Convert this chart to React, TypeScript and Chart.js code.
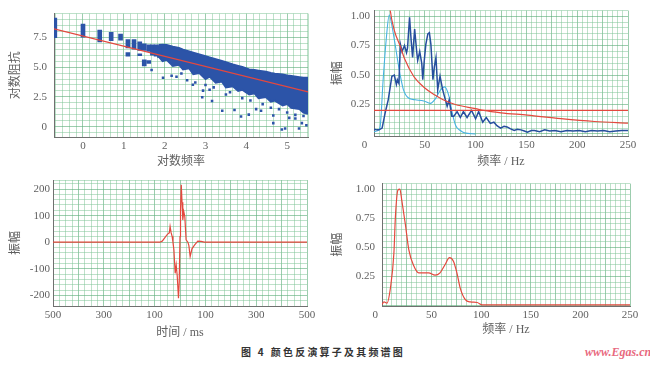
import React, { useEffect, useRef } from "react";
import { Chart, registerables } from "chart.js";
Chart.register(...registerables);

// ---------- Top-left: log impedance vs log frequency ----------
const fitLineX = [-0.71, 5.51];
const fitLineY = [8.2, 2.93];
const colX = [-0.69, 0, 0.41, 0.69, 0.92, 1.1, 1.1, 1.25, 1.39, 1.39, 1.5, 1.5, 1.61, 1.61, 1.7, 1.79, 1.87];
const colLo = [7.45, 7.5, 7.1, 7.2, 7.25, 6.6, 5.9, 6.5, 6.4, 5.95, 6.4, 5.1, 6.3, 5.3, 6.0, 5.9, 5.8];
const colHi = [9.1, 8.6, 8.1, 7.9, 7.75, 7.3, 6.2, 7.3, 7.1, 6.1, 6.95, 5.6, 6.85, 5.55, 6.85, 6.85, 6.8];
const bandX = [1.85, 1.95, 2.05, 2.2, 2.35, 2.45, 2.6, 2.7, 2.85, 3.0, 3.1, 3.25, 3.4, 3.5, 3.67, 3.8, 3.9, 4.07, 4.2, 4.3, 4.48, 4.6, 4.7, 4.89, 5.0, 5.1, 5.3, 5.4, 5.51];
const bandHi = [6.85, 6.86, 6.85, 6.7, 6.6, 6.45, 6.3, 6.2, 6.05, 5.9, 5.8, 5.65, 5.5, 5.4, 5.22, 5.1, 5.0, 4.8, 4.75, 4.7, 4.6, 4.5, 4.45, 4.38, 4.3, 4.25, 4.15, 4.1, 4.1];
const bandLo = [5.9, 5.5, 5.6, 5.1, 5.2, 4.8, 4.9, 4.4, 4.5, 4.0, 4.2, 3.7, 3.8, 3.3, 3.4, 3.0, 3.1, 2.7, 2.8, 2.4, 2.5, 2.1, 2.2, 1.8, 1.9, 1.6, 1.5, 1.2, 1.1];
const outX = [1.68, 1.96, 2.17, 2.29, 2.41, 2.55, 2.69, 2.75, 2.92, 2.94, 3.0, 3.1, 3.16, 3.2, 3.41, 3.5, 3.6, 3.71, 3.87, 3.9, 4.06, 4.1, 4.24, 4.36, 4.4, 4.6, 4.66, 4.66, 4.8, 4.87, 4.95, 5.0, 5.05, 5.2, 5.2, 5.29, 5.36, 5.4, 5.47];
const outY = [4.75, 4.11, 4.27, 4.19, 4.46, 3.9, 3.52, 3.7, 2.48, 3.03, 3.5, 3.11, 2.16, 3.3, 1.35, 2.7, 2.9, 1.4, 0.86, 2.4, 1.02, 2.2, 1.48, 1.35, 1.9, 1.6, 0.94, 0.31, 1.48, -0.22, -0.14, 1.2, 0.75, 0.7, 1.0, -0.14, 0.31, 0.9, 0.13];

// ---------- Top-right: spectra ----------
const decayF = [14, 16, 20, 26, 30, 39, 50, 60, 68, 80, 100, 108, 125, 151, 184, 217, 250];
const decayV = [1.25, 1.05, 0.88, 0.74, 0.64, 0.49, 0.39, 0.33, 0.29, 0.25, 0.215, 0.2, 0.18, 0.16, 0.13, 0.106, 0.092];
const levelF = [0, 250];
const levelV = [0.2, 0.2];
const seisF = [0, 3, 5, 8, 11, 14, 17.6, 20, 22, 23, 24.5, 26, 27.6, 30, 32, 33, 35, 36.6, 38, 40, 42, 43, 45, 47, 48, 49.5, 51, 53, 54.5, 56, 58, 59.4, 61, 62.7, 65, 67.6, 69, 72, 74, 76.6, 78.5, 81.8, 85, 88, 91.6, 96, 100, 103, 107, 110.5, 114.5, 118, 121, 124.6, 128, 131, 134, 138, 141, 144.6, 148, 151, 155, 158, 163, 168, 173, 178, 184, 190, 196, 202, 208, 214, 220, 226, 232, 238, 244, 250];
const seisV = [0.04, 0.035, 0.035, 0.05, 0.18, 0.29, 0.49, 0.5, 0.42, 0.46, 0.43, 0.76, 0.7, 0.75, 0.69, 0.73, 0.99, 0.79, 0.65, 0.89, 0.7, 0.625, 0.7, 0.6, 0.46, 0.625, 0.76, 0.85, 0.86, 0.76, 0.46, 0.57, 0.65, 0.375, 0.49, 0.375, 0.33, 0.235, 0.29, 0.15, 0.15, 0.19, 0.14, 0.19, 0.14, 0.2, 0.13, 0.19, 0.1, 0.14, 0.09, 0.1, 0.07, 0.05, 0.065, 0.06, 0.045, 0.03, 0.04, 0.035, 0.025, 0.015, 0.03, 0.03, 0.02, 0.035, 0.025, 0.03, 0.02, 0.03, 0.025, 0.03, 0.02, 0.03, 0.025, 0.03, 0.02, 0.025, 0.03, 0.03];
const lightF = [0, 4, 6, 9, 12, 15, 17, 20.8, 23, 26, 29, 34, 40.6, 49, 55.5, 60.5, 65.5, 69.5, 73.8, 77, 80.5, 85, 89, 100];
const lightV = [0.02, 0.03, 0.06, 0.46, 0.8, 1.01, 0.95, 0.76, 0.64, 0.49, 0.375, 0.305, 0.29, 0.28, 0.26, 0.3, 0.375, 0.4, 0.32, 0.18, 0.07, 0.03, 0.01, 0.0];

// ---------- Bottom-left: operator in time ----------
const opT = [-500, -80, -70, -61, -52, -46, -42, -39, -35, -31, -28, -24, -19, -15, -11, -6, -3, 0, 2, 5, 8, 11, 15, 19, 24, 31, 35, 40, 47, 57, 70, 83, 96, 500];
const opA = [0, 0, 4, 15, 27, 33, 35, 59, 36, 22, 2, -29, -117, -86, -125, -211, -150, 21, 120, 216, 150, 84, 115, 96, 9, 0, -13, -54, -25, -11, 4, 3, 0, 0];

// ---------- Bottom-right: operator spectrum ----------
const specF = [0, 2, 5, 8.5, 12, 13.5, 16, 18, 20, 23.5, 27, 32, 37, 43.5, 47, 53.5, 58.5, 63.5, 68, 72, 75.5, 79, 84, 89, 96, 101, 110, 150, 200, 250];
const specV = [0.01, 0.03, 0.02, 0.15, 0.45, 0.76, 0.99, 1.0, 0.9, 0.7, 0.48, 0.34, 0.28, 0.28, 0.28, 0.26, 0.28, 0.35, 0.41, 0.38, 0.28, 0.145, 0.05, 0.03, 0.025, 0.005, 0.005, 0.005, 0.005, 0.005];

// ---------- styling ----------
const SERIF = '"Liberation Serif", "Times New Roman", "Noto Sans CJK SC", serif';
const TXT = "#5f5f5f";
const MINOR = "rgba(125,196,150,0.5)";
const MAJOR = "rgba(95,175,125,0.62)";
const AXIS = "#707070";
const RED = "rgb(228,72,62)";
const DBLUE = "rgb(38,78,158)";
const LBLUE = "rgb(70,178,225)";
const SCAT = "rgb(44,84,168)";

const pts = (xs: number[], ys: number[]) => xs.map((x, i) => ({ x, y: ys[i] }));
const near = (v: number, step: number) => Math.abs(v / step - Math.round(v / step)) < 1e-6;

function axis(opts: any) {
  const { min, max, step, label, major, title, size, pad, titlePad, horizontal } = opts;
  return {
    type: "linear",
    min,
    max,
    offset: false,
    afterBuildTicks: (s: any) => {
      const vals: number[] = [min];
      const k0 = Math.ceil(min / step - 1e-9);
      const k1 = Math.floor(max / step + 1e-9);
      for (let k = k0; k <= k1; k++) {
        const v = k * step;
        if (v - min > 1e-9 && max - v > 1e-9) vals.push(v);
      }
      vals.push(max);
      s.ticks = vals.map((v) => ({ value: v }));
    },
    ticks: {
      autoSkip: false,
      maxRotation: 0,
      minRotation: 0,
      padding: pad,
      color: TXT,
      font: { family: SERIF, size: 11 },
      callback: (v: number) => label(v),
    },
    grid: {
      drawTicks: false,
      offset: false,
      lineWidth: 1,
      color: (ctx: any) => (ctx.tick && near(ctx.tick.value, major) ? MAJOR : MINOR),
    },
    border: { display: true, color: AXIS, width: 1 },
    title: {
      display: true,
      text: title,
      color: TXT,
      font: { family: SERIF, size: 12 },
      padding: { top: titlePad, bottom: titlePad },
    },
    afterFit: (s: any) => {
      if (horizontal) s.height = size;
      else s.width = size;
    },
  };
}

const baseOptions = (padRight: number, xAx: any, yAx: any) => ({
  responsive: false,
  animation: false,
  events: [],
  layout: { padding: { top: 10, right: padRight, bottom: 0, left: 0 } },
  plugins: { legend: { display: false }, tooltip: { enabled: false } },
  scales: { x: xAx, y: yAx },
});

function cfgTopLeft(): any {
  return {
    type: "scatter",
    data: {
      datasets: [
        { type: "line", data: pts(fitLineX, fitLineY), borderColor: RED, borderWidth: 1.2, pointRadius: 0, fill: false },
        {
          type: "bar",
          data: colX.map((x, i) => ({ x, y: [colLo[i], colHi[i]] })),
          backgroundColor: SCAT,
          barThickness: 4,
          borderWidth: 0,
        },
        { type: "line", data: pts(bandX, bandHi), borderColor: SCAT, borderWidth: 2, pointRadius: 0, fill: false },
        { type: "line", data: pts(bandX, bandLo), borderColor: SCAT, borderWidth: 2, pointRadius: 0, fill: "-1", backgroundColor: SCAT },
        { type: "scatter", data: pts(outX, outY), pointStyle: "rect", pointRadius: 1.8, backgroundColor: SCAT, borderWidth: 0 },
      ],
    },
    options: baseOptions(
      17,
      axis({ min: -0.71, max: 5.51, step: 1 / 6, major: 1, horizontal: true, size: 33, pad: 3, titlePad: 1, title: "对数频率",
        label: (v: number) => (near(v, 1) ? String(Math.round(v)) : "") }),
      axis({ min: -0.85, max: 9.47, step: 0.5, major: 2.5, horizontal: false, size: 54, pad: 7, titlePad: 9, title: "对数阻抗",
        label: (v: number) => (near(v, 2.5) ? (Math.abs(v) < 1e-9 ? "0" : v.toFixed(1)) : "") })
    ),
  };
}

function cfgTopRight(): any {
  return {
    type: "line",
    data: {
      datasets: [
        { data: pts(decayF, decayV), borderColor: RED, borderWidth: 1.2, pointRadius: 0, cubicInterpolationMode: "monotone" },
        { data: pts(levelF, levelV), borderColor: RED, borderWidth: 1.2, pointRadius: 0 },
        { data: pts(seisF, seisV), borderColor: DBLUE, borderWidth: 1.5, pointRadius: 0, tension: 0 },
        { data: pts(lightF, lightV), borderColor: LBLUE, borderWidth: 1.1, pointRadius: 0, cubicInterpolationMode: "monotone" },
      ],
    },
    options: baseOptions(
      22,
      axis({ min: 0, max: 250, step: 5, major: 25, horizontal: true, size: 34, pad: 3, titlePad: 1, title: "频率 / Hz",
        label: (v: number) => (v === 0 ? "0       " : near(v, 50) ? String(v) : "") }),
      axis({ min: -0.017, max: 1.047, step: 0.05, major: 0.25, horizontal: false, size: 49, pad: 4, titlePad: 6, title: "振幅",
        label: (v: number) => (near(v, 0.25) && v > 0.01 && v < 1.01 ? v.toFixed(2) : "") })
    ),
  };
}

function cfgBottomLeft(): any {
  return {
    type: "line",
    data: { datasets: [{ data: pts(opT, opA), borderColor: RED, borderWidth: 1.2, pointRadius: 0, tension: 0 }] },
    options: baseOptions(
      18,
      axis({ min: -500, max: 500, step: 25, major: 100, horizontal: true, size: 34, pad: 3, titlePad: 0, title: "时间 / ms",
        label: (v: number) => (near(v + 500, 200) ? String(Math.abs(Math.round(v))) : "") }),
      axis({ min: -240, max: 234, step: 20, major: 100, horizontal: false, size: 53, pad: 3, titlePad: 9, title: "振幅",
        label: (v: number) => (near(v, 100) ? String(Math.round(v)) : "") })
    ),
  };
}

function cfgBottomRight(): any {
  return {
    type: "line",
    data: { datasets: [{ data: pts(specF, specV), borderColor: RED, borderWidth: 1.2, pointRadius: 0, cubicInterpolationMode: "monotone" }] },
    options: baseOptions(
      20,
      axis({ min: 0, max: 250, step: 5, major: 25, horizontal: true, size: 34, pad: 3, titlePad: 3, title: "频率 / Hz",
        label: (v: number) => (v === 0 ? "0     " : near(v, 50) ? String(v) : "") }),
      axis({ min: -0.005, max: 1.047, step: 0.05, major: 0.25, horizontal: false, size: 57, pad: 7, titlePad: 6, title: "振幅",
        label: (v: number) => (near(v, 0.25) && v > 0.01 && v < 1.01 ? v.toFixed(2) : "") })
    ),
  };
}

function ChartBox({ left, top, width, height, make }: { left: number; top: number; width: number; height: number; make: () => any }) {
  const ref = useRef<HTMLCanvasElement>(null);
  useEffect(() => {
    const chart = new Chart(ref.current as HTMLCanvasElement, make());
    return () => chart.destroy();
  }, []);
  return <canvas ref={ref} width={width} height={height} style={{ position: "absolute", left, top, width, height }} />;
}

export default function App() {
  return (
    <div style={{ position: "absolute", left: 0, top: 0, width: 650, height: 366, background: "#fff", overflow: "hidden" }}>
      <ChartBox left={0} top={0} width={325} height={170} make={cfgTopLeft} />
      <ChartBox left={325} top={0} width={325} height={170} make={cfgTopRight} />
      <ChartBox left={0} top={170} width={325} height={170} make={cfgBottomLeft} />
      <ChartBox left={325} top={170} width={325} height={170} make={cfgBottomRight} />
      <div
        style={{
          position: "absolute",
          left: 241,
          top: 344,
          fontFamily: '"Noto Sans CJK SC", sans-serif',
          fontWeight: 700,
          fontSize: 10,
          lineHeight: "15px",
          color: "#333",
          letterSpacing: "2.2px",
          whiteSpace: "nowrap",
        }}
      >
        <span style={{ marginRight: 5 }}>图 4</span>
        <span>颜色反演算子及其频谱图</span>
      </div>
      <div
        style={{
          position: "absolute",
          left: 585,
          top: 344,
          fontFamily: '"Liberation Serif", serif',
          fontStyle: "italic",
          fontWeight: 700,
          fontSize: 12,
          lineHeight: "16px",
          color: "rgb(232,105,128)",
          whiteSpace: "nowrap",
        }}
      >
        www.Egas.cn
      </div>
    </div>
  );
}
